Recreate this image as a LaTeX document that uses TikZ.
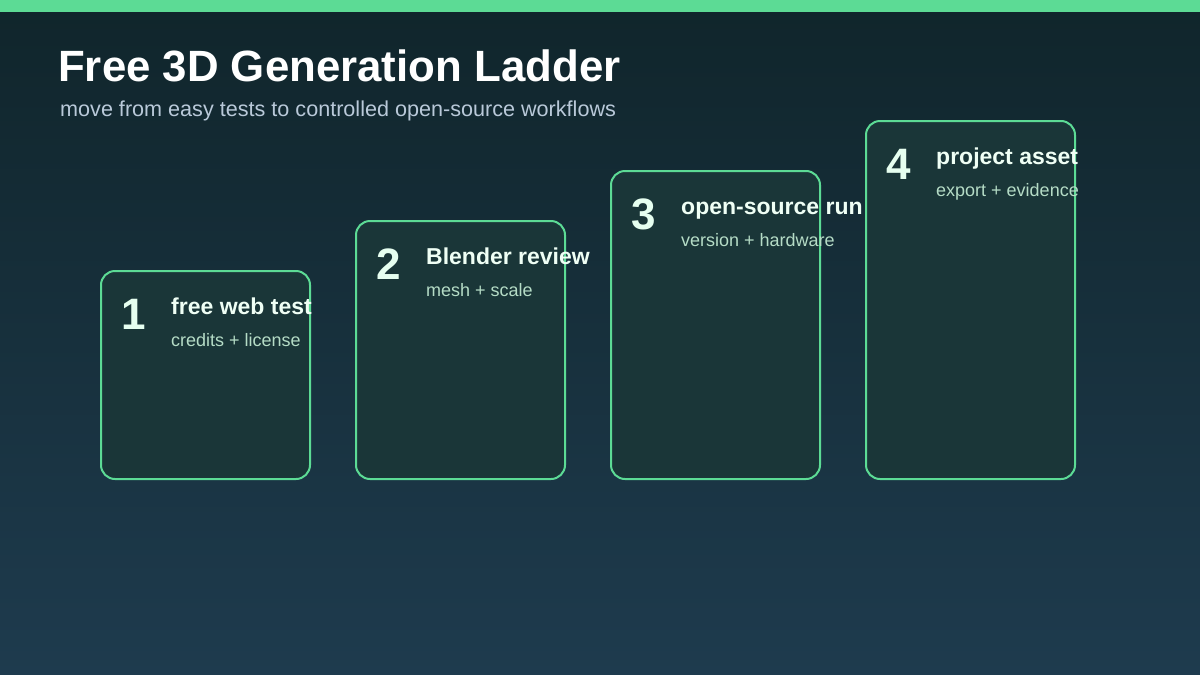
\documentclass[tikz,border=0pt]{standalone}
\usepackage{fontspec}
\setmainfont{Liberation Sans}
\usetikzlibrary{positioning, calc}

\definecolor{bgtop}{HTML}{10252B}
\definecolor{bgbottom}{HTML}{1E3B4E}
\definecolor{accent}{HTML}{5CDB95}
\definecolor{cardfill}{HTML}{1A3638}
\definecolor{numcol}{HTML}{E6FFF0}
\definecolor{headcol}{HTML}{EFFFF5}
\definecolor{notecol}{HTML}{B5DCC6}
\definecolor{subcol}{HTML}{B9C9D9}

\begin{document}
\begin{tikzpicture}[
    x=1pt, y=-1pt,
    card/.style={rectangle, draw=accent, line width=2pt, rounded corners=14pt, fill=cardfill, minimum width=209pt, inner sep=0pt},
    num/.style={anchor=base west, inner sep=0pt, text=numcol, font=\fontsize{44}{48}\selectfont\bfseries},
    head/.style={anchor=base west, inner sep=0pt, text=headcol, font=\fontsize{23}{27}\selectfont\bfseries},
    note/.style={anchor=base west, inner sep=0pt, text=notecol, font=\fontsize{18}{22}\selectfont}
]
\useasboundingbox (0,0) rectangle (1200,675);
% Background
\shade[top color=bgtop, bottom color=bgbottom] (0,0) rectangle (1200,675);
\fill[accent] (0,0) rectangle (1200,12);

% Title
\node[anchor=base west, inner sep=0pt, text=white, font=\fontsize{43.8}{50}\selectfont\bfseries] (title) at (58,81) {Free 3D Generation Ladder};
\node[anchor=base west, inner sep=0pt, text=subcol, font=\fontsize{21.6}{26}\selectfont] (subtitle) at (60,116) {move from easy tests to controlled open-source workflows};

% Steps
\node[card, minimum height=208pt] (step1) at (205.5,375) {};
\node[card, minimum height=258pt] (step2) at (460.5,350) {};
\node[card, minimum height=308pt] (step3) at (715.5,325) {};
\node[card, minimum height=358pt] (step4) at (970.5,300) {};

% Labels
\node[num] (num1) at ($(step1.north west)+(21,59)$) {1};
\node[head] (head1) at ($(step1.north west)+(71,44)$) {free web test};
\node[note] (note1) at ($(step1.north west)+(71,76)$) {credits + license};

\node[num] (num2) at ($(step2.north west)+(21,59)$) {2};
\node[head] (head2) at ($(step2.north west)+(71,44)$) {Blender review};
\node[note] (note2) at ($(step2.north west)+(71,76)$) {mesh + scale};

\node[num] (num3) at ($(step3.north west)+(21,59)$) {3};
\node[head] (head3) at ($(step3.north west)+(71,44)$) {open-source run};
\node[note] (note3) at ($(step3.north west)+(71,76)$) {version + hardware};

\node[num] (num4) at ($(step4.north west)+(21,59)$) {4};
\node[head] (head4) at ($(step4.north west)+(71,44)$) {project asset};
\node[note] (note4) at ($(step4.north west)+(71,76)$) {export + evidence};
\end{tikzpicture}
\end{document}
